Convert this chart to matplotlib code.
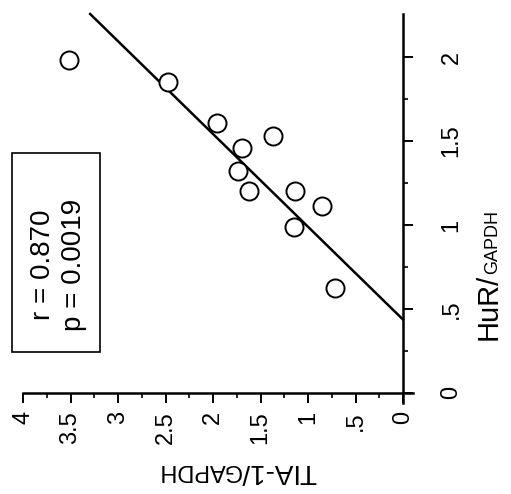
import numpy as np
import matplotlib.pyplot as plt
from matplotlib.patches import Rectangle

plt.rcParams['font.family'] = ['Liberation Sans', 'DejaVu Sans']

hur = [1.98, 1.85, 1.61, 1.53, 1.46, 1.32, 1.20, 1.20, 1.11, 0.99, 0.625]   # HuR/GAPDH
tia = [3.52, 2.47, 1.96, 1.37, 1.69, 1.74, 1.62, 1.14, 0.85, 1.15, 0.72]    # TIA-1/GAPDH
tia_ticks = [4, 3.5, 3, 2.5, 2, 1.5, 1, 0.5, 0]
tia_labels = ['4', '3.5', '3', '2.5', '2', '1.5', '1', '.5', '0']
hur_ticks = [0, 0.5, 1, 1.5, 2]
hur_labels = ['0', '.5', '1', '1.5', '2']
r_text = 'r = 0.870'
p_text = 'p = 0.0019'

W, H = 511, 494
fig = plt.figure(figsize=(W / 100, H / 100), dpi=100)

def fx(px):
    return px / W

def fy(py):
    return 1 - py / H

# the whole chart is turned 90 deg: TIA-1 runs right->left, HuR runs up
ax = fig.add_axes([fx(23), fy(403), fx(413) - fx(23), fy(14) - fy(403)])
ax.set_xlim(4, -0.105)
ax.set_ylim(-0.06, 2.256)

ax.scatter(tia, hur, s=13 ** 2, facecolors='white', edgecolors='black',
           linewidths=1.4, zorder=3)

# regression TIA-1 vs HuR
b, a = np.polyfit(hur, tia, 1)
h0 = -a / b
h1 = 2.256
ax.plot([a + b * h0, a + b * h1], [h0, h1], color='black', lw=1.8, zorder=2,
        clip_on=False)

for s in ['top', 'left']:
    ax.spines[s].set_visible(False)
ax.spines['bottom'].set_position(('data', 0))
ax.spines['right'].set_position(('data', 0))
for s in ['bottom', 'right']:
    ax.spines[s].set_linewidth(1.8)

ax.yaxis.tick_right()
ax.set_xticks(tia_ticks)
ax.set_xticklabels(tia_labels, rotation=90, fontsize=17)
ax.set_xticks(np.arange(0.25, 4, 0.5), minor=True)
ax.set_yticks(hur_ticks)
ax.set_yticklabels(hur_labels, rotation=90, fontsize=17, va='center')
ax.set_yticks(np.arange(0.25, 2.25, 0.5), minor=True)
ax.tick_params(which='major', direction='out', length=7, width=1.4, pad=6)
ax.tick_params(which='minor', direction='out', length=3.5, width=1.2)
ax.tick_params(axis='y', pad=20)

# axis titles, small GAPDH right after the slash
def two_part(x, y, big, small, rot, fs_big, fs_small):
    t1 = fig.text(fx(x), fy(y), big, rotation=rot, rotation_mode='anchor',
                  ha='left', va='baseline', fontsize=fs_big)
    fig.canvas.draw()
    bb = t1.get_window_extent()
    if rot == 90:
        x2, y2 = x, H - bb.y1
    else:
        x2, y2 = bb.x0, y
    fig.text(fx(x2), fy(y2), small, rotation=rot, rotation_mode='anchor',
             ha='left', va='baseline', fontsize=fs_small)

two_part(497, 340, 'HuR/', 'GAPDH', 90, 21, 13)
two_part(316, 464, 'TIA-1/', 'GAPDH', 180, 20, 17)

# stats box
fig.patches.append(Rectangle((fx(12), fy(352)), fx(100) - fx(12), fy(153) - fy(352),
                             transform=fig.transFigure, fill=False, lw=1.2,
                             edgecolor='black'))
fig.text(fx(50), fy(320), r_text, rotation=90, rotation_mode='anchor',
         ha='left', va='baseline', fontsize=20)
fig.text(fx(81), fy(331), p_text, rotation=90, rotation_mode='anchor',
         ha='left', va='baseline', fontsize=20)

fig.savefig('out.png', dpi=100)
